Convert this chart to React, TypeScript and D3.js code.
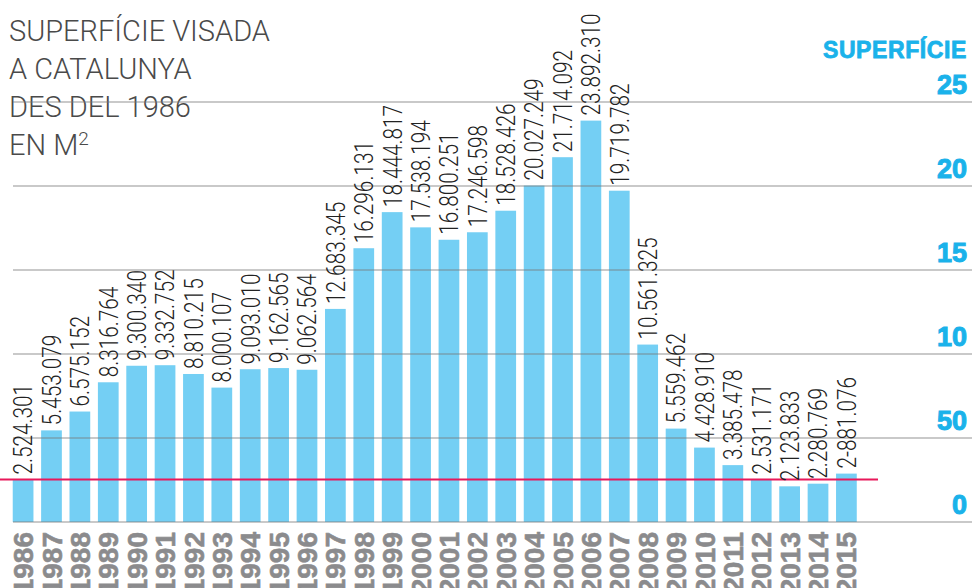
import React from "react";
import * as d3 from "d3";

const years = [
  "1986", "1987", "1988", "1989", "1990", "1991", "1992", "1993", "1994", "1995",
  "1996", "1997", "1998", "1999", "2000", "2001", "2002", "2003", "2004", "2005",
  "2006", "2007", "2008", "2009", "2010", "2011", "2012", "2013", "2014", "2015",
];

const surface = [
  2524301, 5453079, 6575152, 8316764, 9300340, 9332752, 8810215, 8000107, 9093010, 9162565,
  9062564, 12683345, 16296131, 18444817, 17538194, 16800251, 17246598, 18528426, 20027249, 21714092,
  23892310, 19719782, 10561325, 5559462, 4428910, 3385478, 2531171, 2123833, 2280769, 2881076,
];

// etiquetes tal com surten a l'original (inclòs el "2-881.076")
const valueLabels = [
  "2.524.301", "5.453.079", "6.575.152", "8.316.764", "9.300.340", "9.332.752", "8.810.215", "8.000.107", "9.093.010", "9.162.565",
  "9.062.564", "12.683.345", "16.296.131", "18.444.817", "17.538.194", "16.800.251", "17.246.598", "18.528.426", "20.027.249", "21.714.092",
  "23.892.310", "19.719.782", "10.561.325", "5.559.462", "4.428.910", "3.385.478", "2.531.171", "2.123.833", "2.280.769", "2-881.076",
];

const tickValues = [0, 5e6, 10e6, 15e6, 20e6, 25e6];
const tickLabels = ["0", "50", "10", "15", "20", "25"];

const titleLines = ["SUPERFÍCIE VISADA", "A CATALUNYA", "DES DEL 1986"];

const W = 972;
const H = 588;
const BLUE = "#74cff4";
const CYAN = "#1ab2ea";
const BOLD = "'Liberation Sans', Arial, sans-serif";

const App: React.FC = () => {
  const x = d3
    .scaleBand<string>()
    .domain(years)
    .range([8.9, 860.6])
    .paddingInner(0.27)
    .paddingOuter(0.135);

  const y = d3.scaleLinear().domain([0, 25e6]).range([522, 102]);

  const refY = y(surface[0]);

  return (
    <svg
      width={W}
      height={H}
      style={{ position: "absolute", left: 0, top: 0, background: "#fff" }}
    >
      {/* títol */}
      <g fill="#4a4a4a" fontFamily="Roboto, sans-serif" fontWeight={300} fontSize={29}>
        {titleLines.map((t, i) => (
          <text key={t} x={9} y={41 + i * 38}>
            {t}
          </text>
        ))}
        <text x={9} y={155}>
          EN M<tspan fontSize={19} dy={-10}>2</tspan>
        </text>
      </g>

      {/* barres */}
      {surface.map((v, i) => (
        <rect
          key={years[i]}
          x={x(years[i])}
          y={y(v)}
          width={x.bandwidth()}
          height={y(0) - y(v)}
          fill={BLUE}
        />
      ))}

      {/* línies de la graella */}
      {tickValues.map((t) => (
        <line
          key={t}
          x1={13}
          x2={W}
          y1={y(t)}
          y2={y(t)}
          stroke="#777"
          strokeOpacity={0.4}
          strokeWidth={2}
        />
      ))}

      {/* línia de referència 1986 */}
      <line x1={0} x2={878} y1={refY} y2={refY} stroke="#e8185a" strokeWidth={2} />

      {/* valors */}
      {surface.map((v, i) => {
        const cx = (x(years[i]) ?? 0) + x.bandwidth() / 2;
        return (
          <text
            key={"v" + years[i]}
            transform={`translate(${cx},${y(v) - 5}) rotate(-90) scale(0.8,1)`}
            dy="0.36em"
            fontFamily="Roboto, sans-serif"
            fontWeight={300}
            fontSize={26}
            fill="#222"
          >
            {valueLabels[i]}
          </text>
        );
      })}

      {/* anys */}
      {years.map((yr) => {
        const cx = (x(yr) ?? 0) + x.bandwidth() / 2;
        return (
          <text
            key={"a" + yr}
            transform={`translate(${cx},532) rotate(-90)`}
            dy="0.36em"
            textAnchor="end"
            fontFamily={BOLD}
            fontWeight={700}
            fontSize={28}
            fill="#8b8b8d"
            stroke="#8b8b8d"
            strokeWidth={0.6}
          >
            {yr}
          </text>
        );
      })}

      {/* eix dret */}
      <text
        x={967}
        y={58}
        textAnchor="end"
        fontFamily={BOLD}
        fontWeight={700}
        fontSize={23}
        letterSpacing={0.6}
        fill={CYAN}
        stroke={CYAN}
        strokeWidth={0.8}
      >
        SUPERFÍCIE
      </text>
      {tickValues.map((t, i) => (
        <text
          key={"t" + t}
          x={967}
          y={y(t) - 8}
          textAnchor="end"
          fontFamily={BOLD}
          fontWeight={700}
          fontSize={27}
          fill={CYAN}
          stroke={CYAN}
          strokeWidth={1}
        >
          {tickLabels[i]}
        </text>
      ))}
    </svg>
  );
};

export default App;
